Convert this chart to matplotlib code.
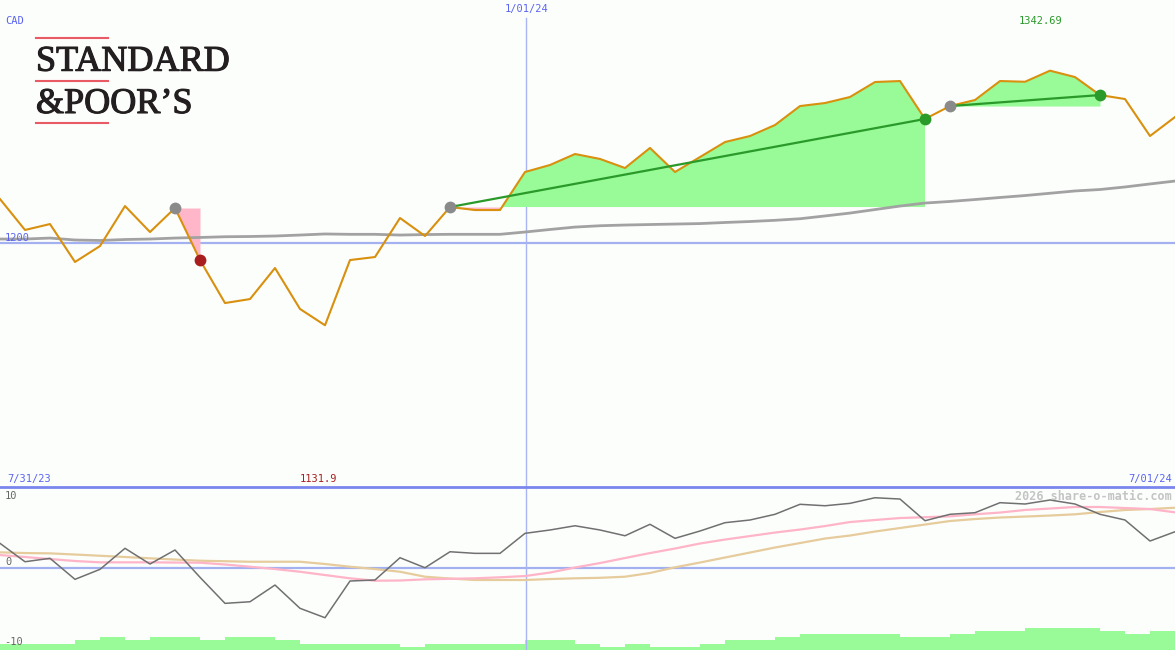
import numpy as np
import matplotlib
matplotlib.use('Agg')
import matplotlib.pyplot as plt
import matplotlib.patheffects as pe
from matplotlib.lines import Line2D

W, H = 1175, 650

# weekly closes (CAD)
price = [1236.4, 1210.8, 1215.7, 1184.3, 1197.5, 1230.6, 1209.1, 1229.0,
         1185.9, 1150.3, 1153.6, 1179.3, 1145.4, 1131.9, 1185.9, 1188.4,
         1220.7, 1205.8, 1229.8, 1227.3, 1227.3, 1258.8, 1264.6, 1273.7,
         1269.6, 1262.1, 1278.7, 1258.8, 1271.2, 1283.6, 1288.6, 1297.7,
         1313.4, 1315.9, 1320.9, 1333.3, 1334.1, 1302.7, 1313.4, 1318.4,
         1334.1, 1333.5, 1342.69, 1337.4, 1322.5, 1319.2, 1288.6, 1304.3]

# slow moving average
ma = [1203.3, 1203.3, 1204.1, 1202.5, 1202.1, 1202.9, 1203.3, 1204.1,
      1204.6, 1205.2, 1205.4, 1205.8, 1206.6, 1207.5, 1207.2, 1207.2,
      1206.6, 1207.0, 1207.2, 1207.2, 1207.2, 1209.1, 1211.2, 1213.2,
      1214.3, 1214.9, 1215.3, 1215.7, 1216.1, 1217.0, 1217.8, 1218.8,
      1220.1, 1222.4, 1224.8, 1227.7, 1230.6, 1233.1, 1234.4, 1236.0,
      1237.7, 1239.3, 1241.2, 1243.1, 1244.3, 1246.4, 1248.9, 1251.3]

# momentum and its two averages (lower panel)
mom = [3.38, 0.86, 1.33, -1.55, -0.18, 2.70, 0.55, 2.47,
       -1.27, -4.84, -4.62, -2.33, -5.52, -6.81, -1.78, -1.64,
       1.41, 0.04, 2.23, 2.01, 2.01, 4.75, 5.21, 5.79,
       5.21, 4.42, 5.99, 4.07, 5.07, 6.21, 6.58, 7.36,
       8.73, 8.53, 8.86, 9.63, 9.45, 6.48, 7.36, 7.58,
       8.95, 8.77, 9.32, 8.77, 7.36, 6.58, 3.70, 4.97]
mom_fast = [1.78, 1.51, 1.23, 0.96, 0.78, 0.78, 0.78, 0.75,
            0.73, 0.48, 0.18, -0.14, -0.51, -0.96, -1.41, -1.74,
            -1.71, -1.55, -1.48, -1.41, -1.27, -1.10, -0.62, 0.07,
            0.68, 1.37, 2.05, 2.67, 3.36, 3.90, 4.38, 4.86,
            5.27, 5.75, 6.30, 6.58, 6.85, 6.96, 7.08, 7.36,
            7.60, 7.95, 8.15, 8.36, 8.36, 8.22, 8.08, 7.63]
mom_slow = [2.15, 2.05, 2.01, 1.85, 1.68, 1.51, 1.33, 1.16,
            1.00, 0.93, 0.86, 0.86, 0.86, 0.55, 0.18, -0.14,
            -0.51, -1.19, -1.44, -1.64, -1.64, -1.64, -1.51, -1.41,
            -1.34, -1.19, -0.68, 0.10, 0.75, 1.44, 2.12, 2.81,
            3.42, 4.04, 4.45, 5.00, 5.48, 5.96, 6.44, 6.71,
            6.92, 7.05, 7.19, 7.36, 7.67, 7.95, 8.08, 8.26]

volume = [2, 2, 2, 3, 4, 3, 4, 4, 3, 4, 4, 3, 2, 2, 2, 2,
          1, 2, 2, 2, 2, 3, 3, 2, 1, 2, 1, 1, 2, 3, 3, 4,
          5, 5, 5, 5, 4, 4, 5, 6, 6, 7, 7, 7, 6, 5, 6, 6]

# trades: (entry week, exit week)
trades = [(7, 8), (18, 37), (38, 44)]

year_start = 21.04  # 1/01/24 in weeks from left edge
x = np.arange(len(price))
p = np.array(price)

bg = '#fcfefc'
blue_txt = '#5a64f0'
orange = '#d8900e'

fig = plt.figure(figsize=(W / 100, H / 100), dpi=100, facecolor=bg)
top = fig.add_axes([0, 163 / H, 1, 487 / H])
vax = fig.add_axes([0, 0, 1, 163 / H])
bot = fig.add_axes([0, 0, 1, 163 / H])
for ax in (top, vax, bot):
    ax.set_xlim(0, 47)
    ax.axis('off')
top.set_ylim(998.0, 1401.2)
bot.set_ylim(-11.23, 11.10)
vax.set_ylim(0, 51.4)

# upper panel
top.axhline(1200, color='#a3b1f0', lw=1.6, zorder=0.5)
top.axvline(year_start, ymax=(487 - 18) / 487, color='#a8b4f4', lw=1, zorder=0.5)
for e, q in trades:
    xs = x[e:q + 1]
    ys = p[e:q + 1]
    top.fill_between(xs, p[e], ys, where=ys >= p[e], interpolate=True,
                     color='#98fb98', lw=0, zorder=1)
    top.fill_between(xs, p[e], ys, where=ys <= p[e], interpolate=True,
                     color='#ffb6c8', lw=0, zorder=1)
top.plot(x, ma, color='#a2a2a2', lw=2, zorder=2)
top.plot(x, p, color=orange, lw=1.5, zorder=3)
for e, q in trades:
    win = p[q] > p[e]
    if win:
        top.plot([e, q], [p[e], p[q]], color='#2a9a2a', lw=1.6, zorder=4)
    top.plot(e, p[e], 'o', ms=8.5, color='#8a8a8a', mec='none', zorder=5)
    top.plot(q, p[q], 'o', ms=8.5, color='#2a9a2a' if win else '#a81e1e',
             mec='none', zorder=5)

# lower panel
vax.bar(x, volume, width=1, align='edge', color='#98fb98', lw=0)
bot.axhline(0, color='#a3b1f0', lw=1.6, zorder=0.5)
bot.axvline(year_start, color='#a8b4f4', lw=1, zorder=0.5)
bot.axhline(11.10, color='#7a86ee', lw=2, clip_on=False, zorder=6)
bot.plot(x, mom_slow, color='#e6cc9c', lw=1.6, zorder=2)
bot.plot(x, mom_fast, color='#ffb4c8', lw=1.6, zorder=2)
bot.plot(x, mom, color='#707070', lw=1.1, zorder=3)


def label(px, py, s, color, ha='left', **kw):
    kw.setdefault('family', 'DejaVu Sans Mono')
    kw.setdefault('fontsize', 7.5)
    fig.text(px / W, 1 - py / H, s, color=color, ha=ha, va='center', **kw)


label(5, 21, 'CAD', blue_txt)
label(527, 9, '1/01/24', blue_txt, ha='center')
label(1041, 21, '%.2f' % max(price), '#2a9a2a', ha='center')
label(5, 238, '1200', blue_txt)
label(7, 479, '7/31/23', blue_txt)
label(318, 479, '%.1f' % min(price), '#a81e1e', ha='center')
label(1172, 479, '7/01/24', blue_txt, ha='right')
label(5, 496, '10', '#666666')
label(5, 562, '0', '#666666')
label(4, 642, '-10', '#666666')
label(1172, 496, '2026 share-o-matic.com', '#c4c4c4', ha='right',
      fontsize=8.5, fontweight='bold')

# logo
logo_ink = '#231f20'
for py in (37.5, 80.5, 122.5):
    fig.add_artist(Line2D([36 / W, 108 / W], [1 - py / H] * 2,
                          color='#e85a64', lw=1.5))
for py, word in ((70.7, 'STANDARD'), (113, '&POOR\u2019S')):
    fig.text(36 / W, 1 - py / H, word, family='Liberation Serif',
             fontsize=26, color=logo_ink, va='baseline',
             path_effects=[pe.withStroke(linewidth=0.8, foreground=logo_ink)])

fig.savefig('out.png', dpi=100, facecolor=bg)
